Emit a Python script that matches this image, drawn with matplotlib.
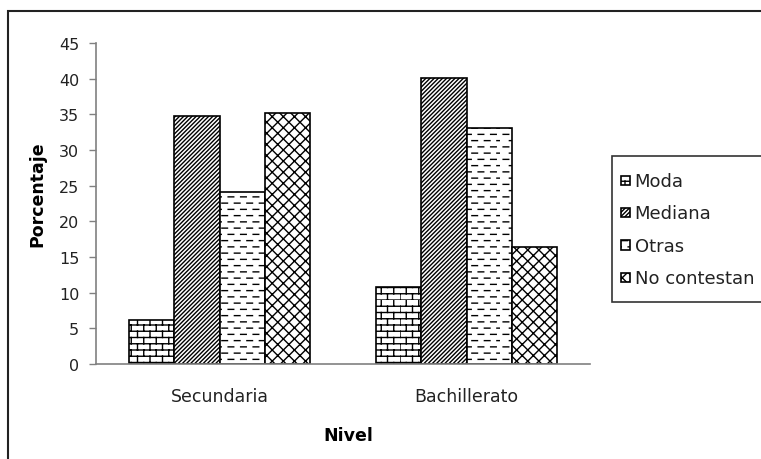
import warnings
import numpy as np
import matplotlib
matplotlib.use('Agg')
import matplotlib.pyplot as plt
import matplotlib.hatch as mhatch
from matplotlib.path import Path
from matplotlib.patches import Rectangle
from matplotlib.legend_handler import HandlerPatch

warnings.filterwarnings('ignore')

# datos
niveles = ['Secundaria', 'Bachillerato']
series = ['Moda', 'Mediana', 'Otras', 'No contestan']
moda = [6.2, 10.8]
mediana = [34.7, 40.1]
otras = [24.1, 33.1]
no_contestan = [35.2, 16.4]
yticks = [0, 5, 10, 15, 20, 25, 30, 35, 40, 45]


# tramas propias: ladrillo ('b') y guiones ('d')
class BrickHatch(mhatch.HatchPatternBase):
    def __init__(self, hatch, density):
        n = hatch.count('b')
        self.rows = 16 * n
        self.cols = 8 * n
        self.num_vertices = (self.rows + self.rows * self.cols) * 2 if n else 0

    def set_vertices_and_codes(self, vertices, codes):
        h = 1.0 / self.rows
        w = 1.0 / self.cols
        i = 0
        for r in range(self.rows):
            vertices[i] = (0.0, r * h)
            vertices[i + 1] = (1.0, r * h)
            i += 2
        for r in range(self.rows):
            off = 0.0 if r % 2 == 0 else w / 2
            for c in range(self.cols):
                x = c * w + off
                vertices[i] = (x, r * h)
                vertices[i + 1] = (x, (r + 1) * h)
                i += 2
        codes[0::2] = Path.MOVETO
        codes[1::2] = Path.LINETO


class DashHatch(mhatch.HatchPatternBase):
    def __init__(self, hatch, density):
        n = hatch.count('d')
        self.rows = 16 * n
        self.cols = 8 * n
        self.num_vertices = self.rows * self.cols * 2 if n else 0

    def set_vertices_and_codes(self, vertices, codes):
        h = 1.0 / self.rows
        w = 1.0 / self.cols
        i = 0
        for r in range(self.rows):
            off = 0.0 if r % 2 == 0 else w / 2
            y = (r + 0.5) * h
            for c in range(self.cols):
                x = c * w + off + w * 0.25
                vertices[i] = (x, y)
                vertices[i + 1] = (x + w * 0.45, y)
                i += 2
        codes[0::2] = Path.MOVETO
        codes[1::2] = Path.LINETO


mhatch._hatch_types.extend([BrickHatch, DashHatch])

plt.rcParams['font.family'] = ['DejaVu Sans']
plt.rcParams['hatch.linewidth'] = 1.0
plt.rcParams['hatch.color'] = 'black'

fig = plt.figure(figsize=(7.61, 4.60), dpi=100)
ax = fig.add_axes([96 / 761, 1 - 365 / 460, 494 / 761, 321 / 460])

valores = [moda, mediana, otras, no_contestan]
tramas = ['b', '////////', 'd', 'xxx']
ancho = 0.184
x = np.arange(len(niveles))
barras = []
for i, (vals, tr) in enumerate(zip(valores, tramas)):
    b = ax.bar(x + (i - 1.5) * ancho, vals, ancho, color='white',
               edgecolor='black', linewidth=1.2, hatch=tr, label=series[i])
    barras.append(b)

ax.set_xlim(-0.5, 1.5)
ax.set_ylim(0, 45)
ax.set_yticks(yticks)
ax.set_xticks(x)
ax.set_xticklabels(niveles, fontsize=12.5, color='#222222')
ax.tick_params(axis='y', length=5, width=1, color='#808080', labelsize=11.5,
               labelcolor='#222222', pad=7)
ax.tick_params(axis='x', length=0, pad=16.5)
for s in ['top', 'right']:
    ax.spines[s].set_visible(False)
for s in ['left', 'bottom']:
    ax.spines[s].set_color('#808080')
    ax.spines[s].set_linewidth(1.2)

ax.set_ylabel('Porcentaje', fontsize=12.5, fontweight='bold')
ax.yaxis.set_label_coords(-0.101, 0.533)
ax.set_xlabel('Nivel', fontsize=12.5, fontweight='bold')
ax.xaxis.set_label_coords(0.51, -0.22)
ax.xaxis.label.set_va('center')


def cuadrito(legend, orig_handle, xdescent, ydescent, width, height, fontsize):
    s = 0.5 * fontsize
    return Rectangle((-xdescent, height / 2 - s / 2 - ydescent), s, s)


leg = fig.legend(handles=[b[0] for b in barras], labels=series, loc='upper left',
                 bbox_to_anchor=(612 / 761, 0.30, 1.03 - 612 / 761, 1 - 157 / 460 - 0.30),
                 mode='expand', borderaxespad=0,
                 fontsize=13, frameon=True, fancybox=False, edgecolor='black',
                 handlelength=0.5, handleheight=2.25, labelspacing=0.08,
                 handletextpad=0.25, borderpad=0.5,
                 handler_map={Rectangle: HandlerPatch(patch_func=cuadrito)})
leg.get_frame().set_linewidth(1.2)
for t in leg.get_texts():
    t.set_color('#222222')

# marco exterior
fig.patches.append(Rectangle((8 / 761, -0.1), 1.0, 1 - 12 / 460 + 0.1,
                             transform=fig.transFigure, fill=False,
                             edgecolor='#222222', linewidth=1.5))

fig.savefig('out.png', dpi=100)
